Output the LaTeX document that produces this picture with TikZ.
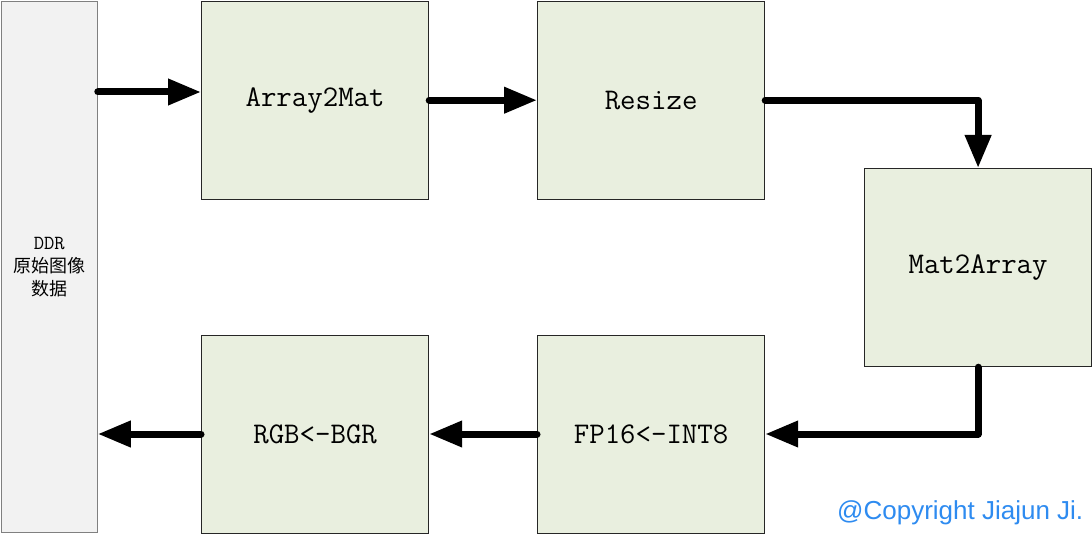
\documentclass[tikz,border=0pt]{standalone}
\usepackage{fontspec}
\newfontfamily\cjk{Noto Sans CJK SC}
\newfontfamily\arialf{Liberation Sans}
\usetikzlibrary{arrows.meta}
\definecolor{boxfill}{HTML}{E9EFDF}
\definecolor{barfill}{HTML}{F2F2F2}
\definecolor{copyblue}{HTML}{2E8BF0}
\tikzset{
  blockbox/.style={draw=black!85, line width=1.2pt, fill=boxfill, minimum width=227pt, minimum height=198pt, inner sep=0pt, font=\ttfamily\fontsize{30}{32}\selectfont},
  flow/.style={line width=7pt, line cap=round, line join=round, -{Triangle[length=33pt,width=25pt]}}
}
\begin{document}
\begin{tikzpicture}[x=1pt,y=-1pt]
\useasboundingbox (0,0) rectangle (1092,534);
\node[draw=black!50, line width=1.2pt, fill=barfill, minimum width=96pt, minimum height=531pt, inner sep=0pt, align=center, anchor=north west, font=\fontsize{18}{23}\selectfont] (bar) at (0.6,0.6)
  {{\ttfamily\fontsize{20}{23}\selectfont DDR}\\ {\cjk 原始图像}\\ {\cjk 数据}};
\node[blockbox, anchor=north west] (a2m) at (201,0.6) {Array2Mat};
\node[blockbox, anchor=north west] (rs) at (537,0.6) {Resize};
\node[blockbox, anchor=north west] (m2a) at (864,168) {Mat2Array};
\node[blockbox, anchor=north west] (rgb) at (201,335) {RGB<-BGR};
\node[blockbox, anchor=north west] (fp) at (537,335) {FP16<-INT8};
\draw[flow] (bar.east |- 0,92) -- (a2m.west |- 0,92);
\draw[flow] (a2m.east) -- (rs.west);
\draw[flow] (rs.east) -| (m2a.north);
\draw[flow] (m2a.south) |- (fp.east |- 0,434);
\draw[flow] (fp.west |- 0,434) -- (rgb.east |- 0,434);
\draw[flow] (rgb.west |- 0,434) -- (bar.east |- 0,434);
\node[anchor=base west, inner sep=0pt, text=copyblue, font=\arialf\fontsize{26}{28}\selectfont] (cr) at (837,519) {@Copyright Jiajun Ji.};
\end{tikzpicture}
\end{document}
